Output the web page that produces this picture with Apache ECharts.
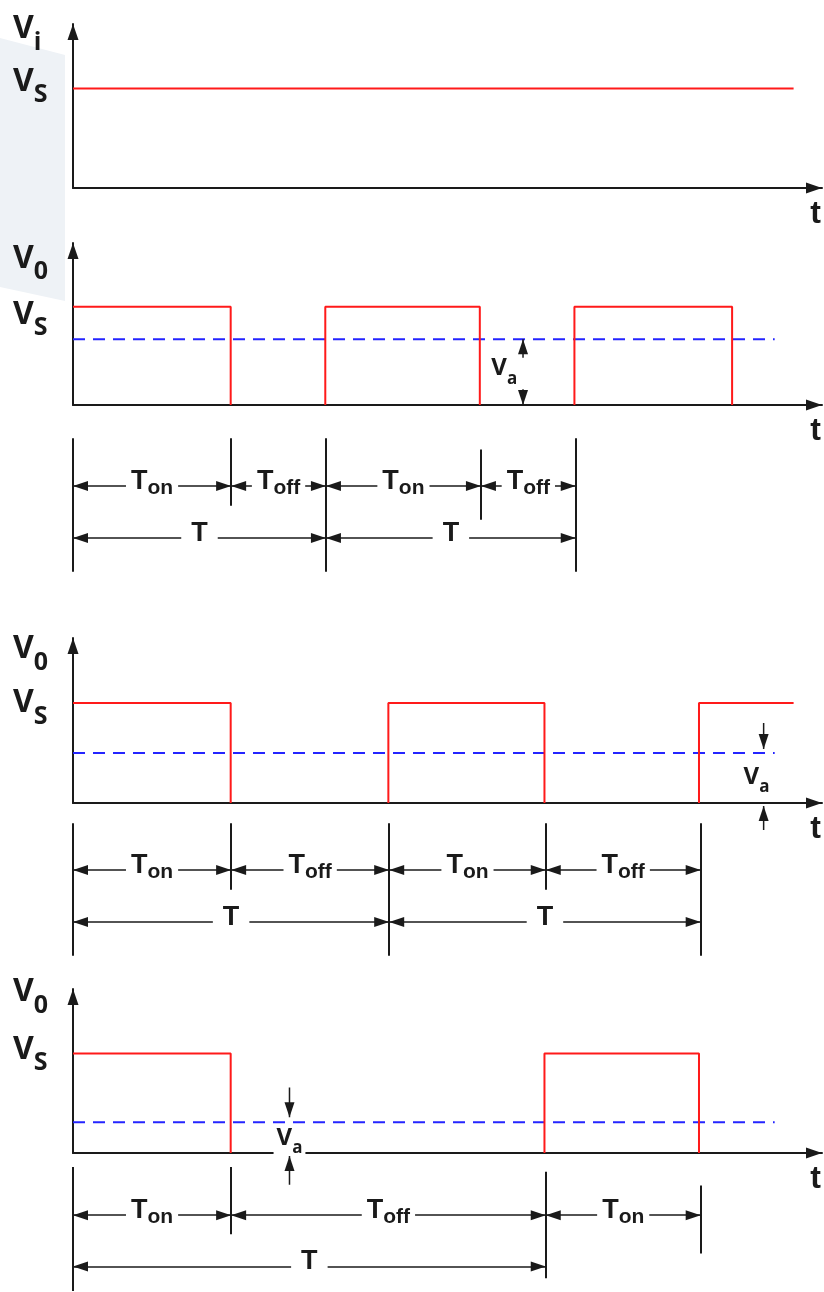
<!DOCTYPE html>
<html>
<head>
<meta charset="utf-8">
<script src="https://cdn.jsdelivr.net/npm/echarts@6/dist/echarts.min.js"></script>
<style>
  html, body { margin: 0; padding: 0; background: #fff; }
  #main { width: 824px; height: 1292px; }
</style>
</head>
<body>
<div id="main"></div>
<script>
// time in units of Ton, voltage in units of Vs
const tMax = 4.75;
const vMax = 1.65;
const vs = 1;
const lineEnd = 4.57;   // waveforms stop here
const avgEnd = 4.45;    // dashed average stops here

// switching instants: high from edges[0] to edges[1], edges[2] to edges[3] ...
const edgesIn = [0, 4.57];
const edgesA = [0, 1, 1.6, 2.58, 3.18, 4.18];
const edgesB = [0, 1, 2, 2.99, 3.97, 4.57];
const edgesC = [0, 1, 2.99, 3.97];

// average output Va for each case
const vaLevels = [0.67, 0.5, 0.31];

// y tick labels [value, subscript]
const ticksIn = [[1.06, 'S'], [1.59, 'i']];
const ticksA = [[0.91, 'S'], [1.48, '0']];
const ticksB = [[0.99, 'S'], [1.53, '0']];
const ticksC = [[1.03, 'S'], [1.61, '0']];
const tLabelAt = 4.71;

// Va arrows [t, tail, tip]
const vaArrowsA = [[2.854, 0.48, 0.67], [2.854, 0.16, 0]];
const vaArrowsB = [[4.38, 0.8, 0.54], [4.38, -0.27, -0.03]];
const vaArrowsC = [[1.373, 0.66, 0.36], [1.373, -0.32, -0.03]];
// Va label centres [t, v]
const vaTextA = [2.735, 0.36];
const vaTextB = [4.335, 0.25];
const vaTextC = [1.373, 0.14];

// timing diagrams: boundary marks [t, from row, to row]
const marksA = [[0, 0.08, 2.65], [1, 0.08, 1.38], [1.6, 0.08, 2.65], [2.58, 0.3, 1.65], [3.18, 0.08, 2.65]];
const marksB = [[0, 0.1, 2.65], [1, 0.1, 1.38], [2, 0.1, 2.65], [2.99, 0.1, 1.38], [3.97, 0.1, 2.65]];
const marksC = [[0, 0.06, 2.48], [1, 0.06, 1.37], [2.99, 0.15, 2.23], [3.97, 0.42, 1.75]];
// spans [start, end, row, subscript]
const spansA = [[0, 1, 1, 'on'], [1, 1.6, 1, 'off'], [1.6, 2.58, 1, 'on'], [2.58, 3.18, 1, 'off'], [0, 1.6, 2, ''], [1.6, 3.18, 2, '']];
const spansB = [[0, 1, 1, 'on'], [1, 2, 1, 'off'], [2, 2.99, 1, 'on'], [2.99, 3.97, 1, 'off'], [0, 2, 2, ''], [2, 3.97, 2, '']];
const spansC = [[0, 1, 1, 'on'], [1, 2.99, 1, 'off'], [2.99, 3.97, 1, 'on'], [0, 2.99, 2, '']];

const ink = '#1a1a1a';
const red = '#ff1a1a';
const blue = '#2424ff';

const chart = echarts.init(document.getElementById('main'));

const grids = [
  { left: 73, right: 0, top: 24, height: 164 },
  { left: 73, right: 0, top: 243, height: 162 },
  { left: 73, right: 0, top: 434, height: 156 },
  { left: 73, right: 0, top: 638, height: 165 },
  { left: 73, right: 0, top: 818, height: 156 },
  { left: 73, right: 0, top: 989, height: 164 },
  { left: 73, right: 0, top: 1164, height: 128 }
];

const arrowLine = {
  show: true,
  lineStyle: { color: ink, width: 2 },
  symbol: ['none', 'triangle'],
  symbolSize: [11, 16],
  symbolOffset: [0, -8]
};

const vRich = {
  v: { fontSize: 32, fontWeight: 'bold', fontFamily: 'Open Sans', color: ink, lineHeight: 34, verticalAlign: 'top' },
  s: { fontSize: 25, fontWeight: 'bold', fontFamily: 'Open Sans', color: ink, lineHeight: 26, verticalAlign: 'top', padding: [17, 0, 0, 0] }
};
const vaRich = {
  v: { fontSize: 24, fontWeight: 'bold', fontFamily: 'Open Sans', fill: ink, lineHeight: 26, verticalAlign: 'top' },
  s: { fontSize: 17, fontWeight: 'bold', fontFamily: 'Open Sans', fill: ink, lineHeight: 18, verticalAlign: 'top', padding: [14, 0, 0, 0] }
};
const timeRich = {
  t: { fontSize: 27, fontWeight: 'bold', fontFamily: 'Liberation Sans', color: ink, lineHeight: 28, verticalAlign: 'top' },
  s: { fontSize: 21, fontWeight: 'bold', fontFamily: 'Liberation Sans', color: ink, lineHeight: 20, verticalAlign: 'top', padding: [10, 0, 0, 0] }
};

const xAxes = [], yAxes = [], series = [], vaLabels = [];

function panelAxes(g, ticks) {
  xAxes.push({
    gridIndex: g, type: 'value', min: 0, max: tMax,
    axisLine: arrowLine, axisTick: { show: false }, splitLine: { show: false },
    axisLabel: {
      customValues: [tLabelAt], formatter: () => 't', margin: 10,
      fontSize: 32, fontWeight: 'bold', fontFamily: 'Liberation Sans', color: ink
    }
  });
  yAxes.push({
    gridIndex: g, type: 'value', min: 0, max: vMax,
    axisLine: arrowLine, axisTick: { show: false }, splitLine: { show: false },
    axisLabel: {
      customValues: ticks.map(k => k[0]),
      formatter: function (v) {
        const k = ticks.find(k => Math.abs(k[0] - v) < 1e-6);
        return k ? '{v|V}{s|' + k[1] + '}' : '';
      },
      align: 'left', margin: 60, rich: vRich
    }
  });
}

function timingAxes(g, rows) {
  xAxes.push({ gridIndex: g, type: 'value', min: 0, max: tMax, show: false });
  yAxes.push({ gridIndex: g, type: 'value', min: 0, max: rows, inverse: true, show: false });
}

function waveSeries(g, edges) {
  for (let i = 0; i < edges.length; i += 2) {
    const a = edges[i], b = edges[i + 1];
    const pts = [];
    if (a > 0) pts.push([a, 0]);
    pts.push([a, vs], [b, vs]);
    if (b < lineEnd) pts.push([b, 0]);
    series.push({
      type: 'line', xAxisIndex: g, yAxisIndex: g, data: pts, symbol: 'none', z: 4,
      lineStyle: { color: red, width: 2 }, silent: true
    });
  }
}

function avgSeries(g, va, arrows, text, withBg) {
  series.push({
    type: 'line', xAxisIndex: g, yAxisIndex: g, data: [[0, va], [avgEnd, va]], symbol: 'none', z: 3,
    lineStyle: { color: blue, width: 2, type: [12, 8] }, silent: true
  });
  arrows.forEach(function (a) {
    const up = a[2] > a[1];
    series.push({
      type: 'line', xAxisIndex: g, yAxisIndex: g, clip: false, symbol: 'none', showSymbol: true, silent: true, z: 4,
      lineStyle: { color: ink, width: 1.5 }, itemStyle: { color: ink },
      data: [[a[0], a[1]], {
        value: [a[0], a[2]], symbol: 'triangle', symbolSize: [10, 15],
        symbolRotate: up ? 0 : 180, symbolOffset: [0, up ? 7.5 : -7.5]
      }]
    });
  });
  vaLabels.push({ grid: g, at: text, bg: withBg });
}

function timingSeries(g, marks, spans) {
  const items = [];
  marks.forEach(function (m) {
    items.push([
      { coord: [m[0], m[1]], symbol: 'none', lineStyle: { width: 2 }, label: { show: false } },
      { coord: [m[0], m[2]], symbol: 'none' }
    ]);
  });
  spans.forEach(function (s) {
    items.push([
      { coord: [s[0], s[2]], label: {
          formatter: s[3] ? '{t|T}{s|' + s[3] + '}' : '{t|T}',
          padding: s[3] ? [0, 5, 8, 5] : [0, 10, 8, 10] } },
      { coord: [s[1], s[2]] }
    ]);
  });
  series.push({
    type: 'line', xAxisIndex: g, yAxisIndex: g, data: [],
    markLine: {
      silent: true, animation: false,
      symbol: ['triangle', 'triangle'], symbolSize: [10, 15], symbolOffset: [[0, 7.5], [0, 7.5]],
      lineStyle: { color: ink, width: 1.5, type: 'solid' },
      itemStyle: { color: ink },
      label: { show: true, position: 'insideMiddle', color: ink, backgroundColor: '#fff', rich: timeRich },
      emphasis: { disabled: true },
      data: items
    }
  });
}

// panel 1: input voltage
panelAxes(0, ticksIn);
waveSeries(0, edgesIn);
// panel 2
panelAxes(1, ticksA);
waveSeries(1, edgesA);
avgSeries(1, vaLevels[0], vaArrowsA, vaTextA, false);
timingAxes(2, 3);
timingSeries(2, marksA, spansA);
// panel 3
panelAxes(3, ticksB);
waveSeries(3, edgesB);
avgSeries(3, vaLevels[1], vaArrowsB, vaTextB, false);
timingAxes(4, 3);
timingSeries(4, marksB, spansB);
// panel 4
panelAxes(5, ticksC);
waveSeries(5, edgesC);
avgSeries(5, vaLevels[2], vaArrowsC, vaTextC, true);
timingAxes(6, 2.5);
timingSeries(6, marksC, spansC);

chart.setOption({
  backgroundColor: '#fff',
  animation: false,
  grid: grids,
  xAxis: xAxes,
  yAxis: yAxes,
  series: series
});

// Va labels placed through the panel scales
const graphics = [{
  type: 'polygon', silent: true, z: -1,
  shape: { points: [[0, 38], [65, 55], [65, 301], [0, 287]] },
  style: { fill: '#eef2f6' }
}];
vaLabels.forEach(function (l) {
  const p = chart.convertToPixel({ gridIndex: l.grid }, l.at);
  graphics.push({
    type: 'text', silent: true, z: 100, x: p[0], y: p[1],
    style: {
      text: '{v|V}{s|a}', rich: vaRich, align: 'center', verticalAlign: 'middle',
      backgroundColor: l.bg ? '#fff' : null, padding: [2, 3, 2, 3]
    }
  });
});
chart.setOption({ graphic: graphics });
</script>
</body>
</html>
